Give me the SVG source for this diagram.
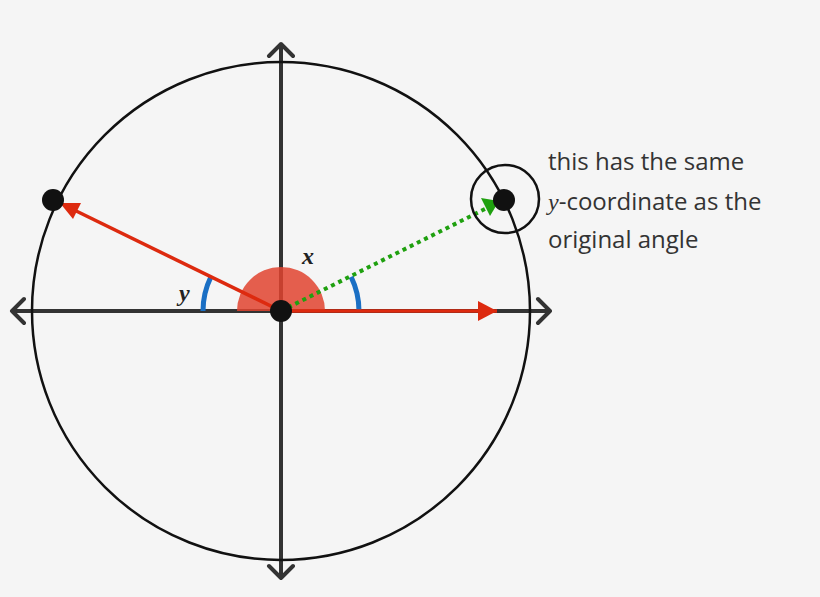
<svg xmlns="http://www.w3.org/2000/svg" width="820" height="597" viewBox="0 0 820 597">
<style>
.ax{stroke:#333;stroke-width:4;fill:none;stroke-linecap:round;stroke-linejoin:round}
.lbl{font-family:"Open Sans","Liberation Sans",sans-serif;font-size:24px;fill:#333}
.m{font-family:"Liberation Serif",serif;font-style:italic;font-weight:bold;font-size:24px;fill:#222}
</style>
<defs>
<marker id="ar" markerWidth="10" markerHeight="10" refX="8" refY="5" orient="auto" markerUnits="userSpaceOnUse" viewBox="0 0 10 10"><path d="M0,0L10,5L0,10z" fill="#dd2a0f"/></marker>
<marker id="ag" markerWidth="10" markerHeight="10" refX="8" refY="5" orient="auto" viewBox="0 0 10 10" markerUnits="userSpaceOnUse"><path d="M0,0L10,5L0,10z" fill="#1fa00f"/></marker>
</defs>
<rect width="820" height="597" fill="#f5f5f5"/>
<g id="axes">
<path class="ax" d="M12,311H550M24,299L12,311L24,323M538,299L550,311L538,323"/>
<path class="ax" d="M281,44V578M269,56L281,44L293,56M269,566L281,578L293,566"/>
</g>
<g id="circle"><circle cx="281" cy="311" r="249" fill="none" stroke="#111" stroke-width="2.5"/></g>
<g id="sector"><path d="M237,311A44,44 0 0 1 325,311Z" fill="#e0432f" opacity="0.85"/></g>
<g id="arcs" fill="none" stroke="#1a6fc4" stroke-width="5">
<path d="M203,311A78,78 0 0 1 210.9,276.8"/>
<path d="M359,311A78,78 0 0 0 351.1,276.8"/>
</g>
<g id="connectors">
<line x1="281" y1="311" x2="497" y2="311" stroke="#dd2a0f" stroke-width="3.5"/>
<path d="M478,301L497,311L478,321z" fill="#dd2a0f"/>
<line x1="281" y1="311" x2="68" y2="207" stroke="#dd2a0f" stroke-width="3.5"/>
<path d="M60,203L81,203L73,219z" fill="#dd2a0f"/>
<line x1="281" y1="311" x2="487" y2="208" stroke="#1fa00f" stroke-width="4" stroke-dasharray="4,4"/>
<path d="M499,201L481,198L490,216z" fill="#1fa00f"/>
</g>
<g id="points" fill="#111">
<circle cx="281" cy="311" r="11"/>
<circle cx="53" cy="200" r="11"/>
<circle cx="504" cy="200" r="11"/>
<circle cx="505" cy="199" r="34" fill="none" stroke="#111" stroke-width="2.5"/>
</g>
<g id="labels">
<text class="m" x="302" y="264">x</text>
<text class="m" x="179" y="301">y</text>
<text class="lbl" x="548" y="170">this has the same</text>
<text class="lbl" x="548" y="210"><tspan font-family="Liberation Serif,serif" font-style="italic">y</tspan>-coordinate as the</text>
<text class="lbl" x="548" y="248">original angle</text>
</g>
</svg>
